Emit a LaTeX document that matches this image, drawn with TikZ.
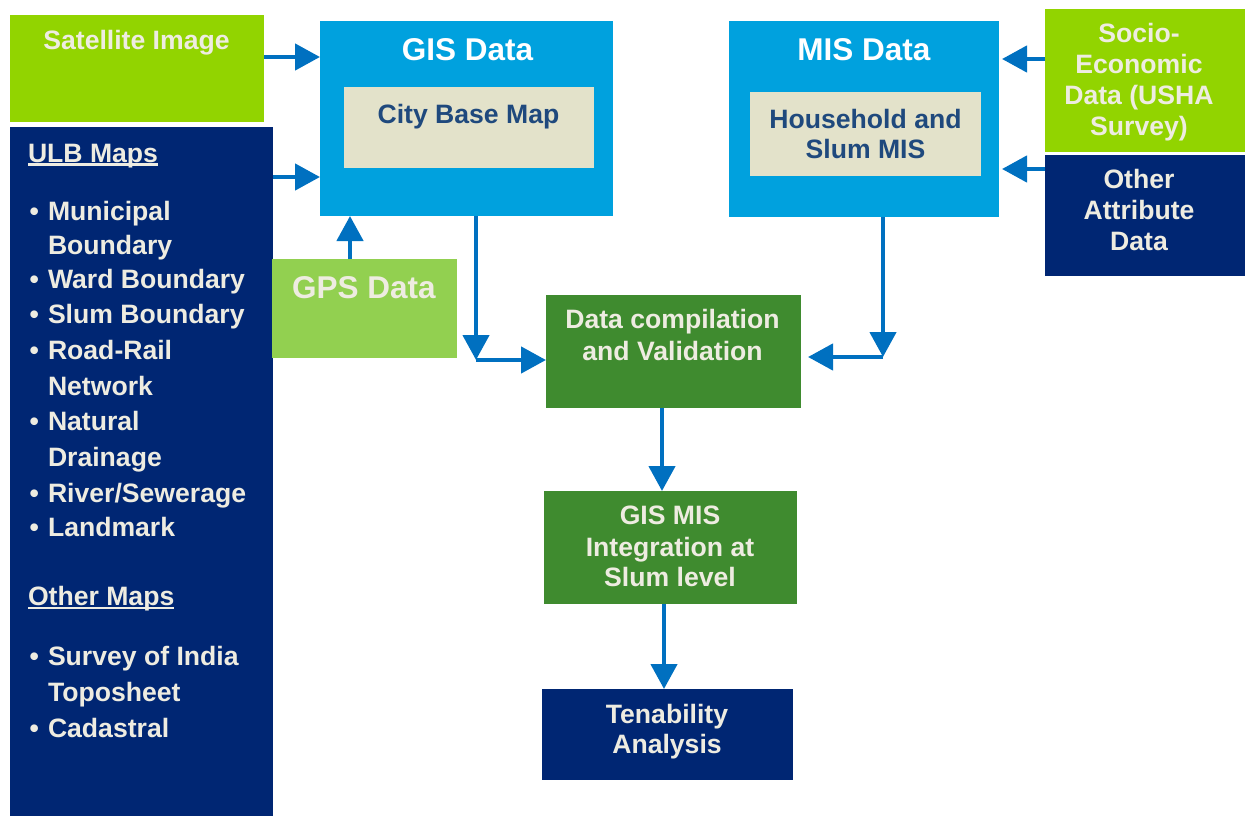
\documentclass[tikz,border=0pt]{standalone}
\usepackage{fontspec}
\setmainfont{Liberation Sans}
\usetikzlibrary{arrows.meta}
\definecolor{cLime}{HTML}{92D400}
\definecolor{cGps}{HTML}{92D050}
\definecolor{cCyan}{HTML}{00A1DE}
\definecolor{cNavy}{HTML}{002673}
\definecolor{cGreen}{HTML}{3F8B2F}
\definecolor{cBeige}{HTML}{E3E2CA}
\definecolor{cInk}{HTML}{1F497D}
\definecolor{cArrow}{HTML}{0070C0}
\definecolor{cCream}{HTML}{EEECE1}
\begin{document}
\begin{tikzpicture}[x=1pt,y=-1pt,
  box/.style={rectangle, draw=none, inner sep=0pt, outer sep=0pt},
  txt/.style={anchor=base, inner sep=0pt, outer sep=0pt, text=cCream,
    font=\bfseries\fontsize{26.6}{31}\selectfont},
  ttl/.style={txt, text=white, font=\bfseries\fontsize{31.5}{36}\selectfont},
  item/.style={txt, anchor=base west},
  arr/.style={draw=cArrow, line width=4.5pt,
    -{Triangle[length=25pt,width=26pt]}},
  uline/.style={cCream, line width=2.5pt}]
\useasboundingbox (0,0) rectangle (1245,816);

% boxes
\node[box, fill=cLime, minimum width=254pt, minimum height=107pt] (sat) at (137,68.5) {};
\node[box, fill=cNavy, minimum width=263pt, minimum height=689pt] (ulb) at (141.5,471.5) {};
\node[box, fill=cCyan, minimum width=293pt, minimum height=195pt] (gis) at (466.5,118.5) {};
\node[box, fill=cBeige, minimum width=250pt, minimum height=81pt] (city) at (469,127.5) {};
\node[box, fill=cCyan, minimum width=270pt, minimum height=196pt] (mis) at (864,119) {};
\node[box, fill=cBeige, minimum width=231pt, minimum height=84pt] (hh) at (865.5,134) {};
\node[box, fill=cLime, minimum width=200pt, minimum height=143pt] (socio) at (1145,80.5) {};
\node[box, fill=cNavy, minimum width=200pt, minimum height=121pt] (other) at (1145,215.5) {};
\node[box, fill=cGps, minimum width=185pt, minimum height=99pt] (gps) at (364.5,308.5) {};
\node[box, fill=cGreen, minimum width=255pt, minimum height=113pt] (comp) at (673.5,351.5) {};
\node[box, fill=cGreen, minimum width=253pt, minimum height=113pt] (integ) at (670.5,547.5) {};
\node[box, fill=cNavy, minimum width=251pt, minimum height=91pt] (ten) at (667.5,734.5) {};

% box texts
\node[txt] (satT) at (136.5,50) {Satellite Image};
\node[ttl] (gisT) at (467.5,61) {GIS Data};
\node[txt, text=cInk] (cityT) at (468.5,123) {City Base Map};
\node[ttl] (misT) at (864,61) {MIS Data};
\node[txt, text=cInk] (hhA) at (865.5,128) {Household and};
\node[txt, text=cInk] (hhB) at (865.5,158) {Slum MIS};
\node[txt] (socA) at (1139,43) {Socio-};
\node[txt] (socB) at (1139,73.5) {Economic};
\node[txt] (socC) at (1139,104) {Data (USHA};
\node[txt] (socD) at (1139,135) {Survey)};
\node[txt] (othA) at (1139,188) {Other};
\node[txt] (othB) at (1139,219) {Attribute};
\node[txt] (othC) at (1139,250) {Data};
\node[ttl, text=cCream] (gpsT) at (364,298) {GPS Data};
\node[txt] (compA) at (672.5,328) {Data compilation};
\node[txt] (compB) at (672.5,360) {and Validation};
\node[txt] (intA) at (670,524) {GIS MIS};
\node[txt] (intB) at (670,556) {Integration at};
\node[txt] (intC) at (670,586) {Slum level};
\node[txt] (tenA) at (667,723) {Tenability};
\node[txt] (tenB) at (667,753) {Analysis};

% map list
\node[item] (ulbH) at (28,162) {ULB Maps};
\draw[uline] ([yshift=-2.5pt]ulbH.base west) -- ([yshift=-2.5pt]ulbH.base east);
\foreach \t/\y/\b [count=\i] in {Municipal/220/1, Boundary/254/0,
    {Ward Boundary}/288/1, {Slum Boundary}/323/1, {Road-Rail}/359/1,
    Network/395/0, Natural/430/1, Drainage/466/0, {River/Sewerage}/502/1,
    Landmark/536/1, {Survey of India}/665/1, Toposheet/701/0, Cadastral/737/1}{
  \node[item] (li\i) at (48,\y) {\t};
  \ifnum\b=1 \node[item] (bu\i) at (29.5,\y) {•}; \fi
}
\node[item] (othH) at (28,605) {Other Maps};
\draw[uline] ([yshift=-3pt]othH.base west) -- ([yshift=-3pt]othH.base east);

% connector levels
\coordinate (k1) at (0,57);
\coordinate (k2) at (0,177);
\coordinate (k3) at (350,0);
\coordinate (cj1) at (476,360);
\coordinate (cj2) at (883,357);
\coordinate (cj3) at (808,357);
\coordinate (k4) at (662,0);
\coordinate (k5) at (664,0);
\coordinate (k6) at (1002,59);
\coordinate (k7) at (1002,169);

% connectors
\draw[arr] (sat.east |- k1) -- (gis.west |- k1);
\draw[arr] (ulb.east |- k2) -- (gis.west |- k2);
\draw[arr] (gps.north -| k3) -- (gis.south -| k3);
\draw[arr] (gis.south -| cj1) -- (cj1);
\draw[arr] (cj1) -- (comp.west |- cj1);
\draw[arr] (mis.south -| cj2) -- (cj2);
\draw[arr] (cj2) -- (cj3);
\draw[arr] (comp.south -| k4) -- (integ.north -| k4);
\draw[arr] (integ.south -| k5) -- (ten.north -| k5);
\draw[arr] (socio.west |- k6) -- (k6);
\draw[arr] (other.west |- k7) -- (k7);
\end{tikzpicture}
\end{document}
